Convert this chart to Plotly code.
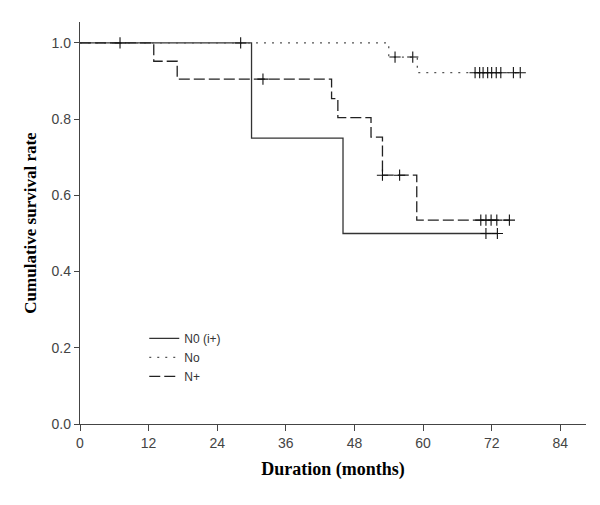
import plotly.graph_objects as go

# Kaplan-Meier step data (months, survival)
n0i_time = [0, 30.0, 46.0, 73.0]
n0i_surv = [1.0, 0.75, 0.5, 0.5]
n0i_cens_time = [7.0, 28.1, 71.0, 73.0]
n0i_cens_surv = [1.0, 1.0, 0.5, 0.5]

no_time = [0, 54.0, 59.0, 77.0]
no_surv = [1.0, 0.963, 0.922, 0.922]
no_cens_time = [55.1, 58.2, 69.1, 69.9, 70.5, 71.3, 72.0, 72.8, 73.6, 75.8, 77.0]
no_cens_surv = [0.963, 0.963, 0.922, 0.922, 0.922, 0.922, 0.922, 0.922, 0.922, 0.922, 0.922]

np_time = [0, 12.9, 17.0, 44.0, 45.1, 50.9, 52.9, 58.9, 75.1]
np_surv = [1.0, 0.952, 0.905, 0.854, 0.804, 0.753, 0.653, 0.535, 0.535]
np_cens_time = [32.0, 52.9, 55.9, 70.1, 71.0, 71.9, 72.9, 75.1]
np_cens_surv = [0.905, 0.653, 0.653, 0.535, 0.535, 0.535, 0.535, 0.535]

x_ticks = [0, 12, 24, 36, 48, 60, 72, 84]
y_ticks = [0.0, 0.2, 0.4, 0.6, 0.8, 1.0]

series = [
    ("N0 (i+)", n0i_time, n0i_surv, n0i_cens_time, n0i_cens_surv, "solid", "#333333"),
    ("No", no_time, no_surv, no_cens_time, no_cens_surv, "2px,6px", "#555555"),
    ("N+", np_time, np_surv, np_cens_time, np_cens_surv, "11px,4px", "#222222"),
]

fig = go.Figure()
for name, t, s, ct, cs, dash, col in series:
    fig.add_trace(go.Scatter(
        x=t, y=s, mode="lines", name=name, line_shape="hv",
        line=dict(color=col, width=1.3, dash=dash),
    ))
for name, t, s, ct, cs, dash, col in series:
    fig.add_trace(go.Scatter(
        x=ct, y=cs, mode="markers", showlegend=False,
        marker=dict(symbol="cross-thin", size=8, line=dict(color="#111111", width=1.1)),
    ))

fig.update_layout(
    width=600, height=505,
    margin=dict(l=72, r=22, t=14, b=89),
    paper_bgcolor="white", plot_bgcolor="white",
    font=dict(family="Liberation Sans, Arial, sans-serif", color="#444444", size=14),
    legend=dict(
        x=0.127, y=0.249, xanchor="left", yanchor="top",
        bgcolor="rgba(0,0,0,0)", itemwidth=30,
        font=dict(size=12, color="#333333"),
    ),
    xaxis=dict(
        range=[0, 88.5], tickvals=x_ticks, ticktext=[str(v) for v in x_ticks],
        showgrid=False, zeroline=False, showline=True, linecolor="#444444", linewidth=1.3,
        ticks="outside", ticklen=6, tickcolor="#444444", tickwidth=1.2,
        title=dict(text="<b>Duration (months)</b>", standoff=12,
                   font=dict(family="Liberation Serif, Times New Roman, serif", size=18, color="#000000")),
    ),
    yaxis=dict(
        range=[0, 1.055], tickvals=y_ticks, ticktext=["%.1f" % v for v in y_ticks],
        showgrid=False, zeroline=False, showline=True, linecolor="#444444", linewidth=1.3,
        ticks="outside", ticklen=5, tickcolor="#444444", tickwidth=1.2,
        title=dict(text="<b>Cumulative survival rate</b>", standoff=10,
                   font=dict(family="Liberation Serif, Times New Roman, serif", size=17, color="#000000")),
    ),
)

fig.write_html("out.html")
